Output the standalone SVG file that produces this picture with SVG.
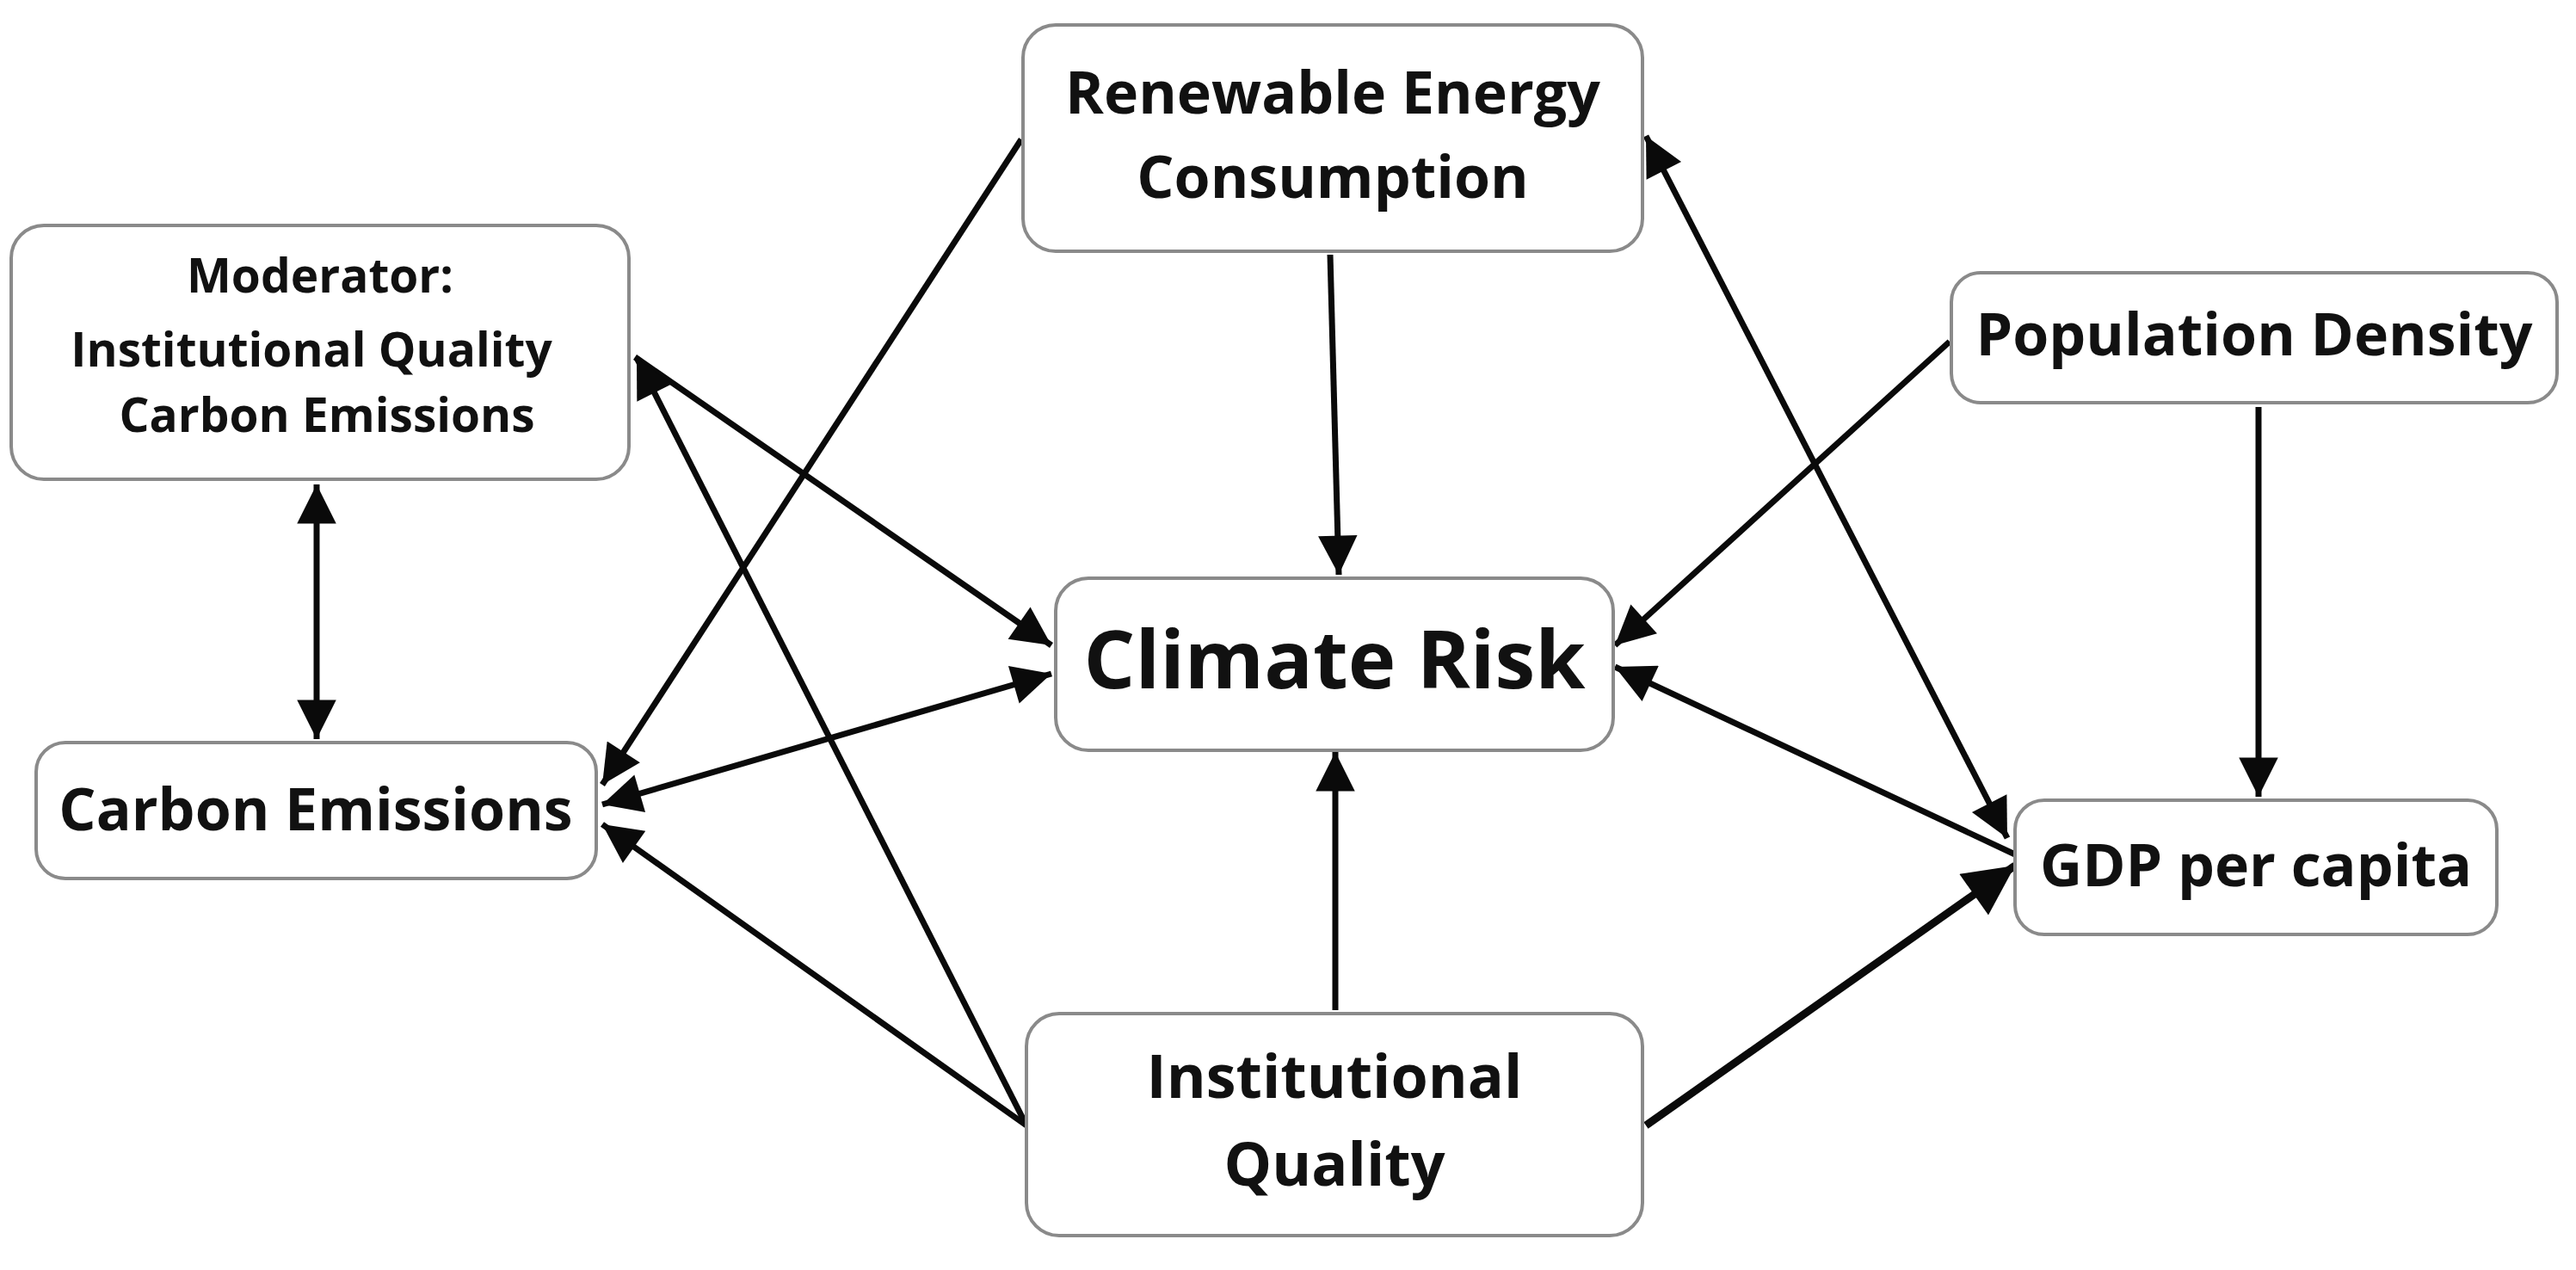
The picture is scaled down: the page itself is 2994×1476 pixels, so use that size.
<svg xmlns="http://www.w3.org/2000/svg" width="2994" height="1476" viewBox="0 0 2994 1476">
<style>
.box{fill:#fff;stroke:#8a8a8a;stroke-width:4}
text{font-family:"Open Sans","Noto Sans","DejaVu Sans",sans-serif;font-weight:bold;fill:#111;text-anchor:middle}
.ln{stroke:#0a0a0a;stroke-width:7;fill:none}
</style>
<defs>
<marker id="a" viewBox="0 0 10 10" refX="10" refY="5" markerWidth="8" markerHeight="6.5" markerUnits="strokeWidth" orient="auto-start-reverse">
<path d="M0,0 L10,5 L0,10 z" fill="#0a0a0a"/>
</marker>
</defs>
<rect width="2994" height="1476" fill="#fff"/>
<g id="connectors">
<line class="ln" x1="1546" y1="296" x2="1556" y2="668" marker-end="url(#a)"/>
<line class="ln" x1="1187" y1="162" x2="700" y2="912" marker-end="url(#a)"/>
<line class="ln" x1="368" y1="563" x2="368" y2="859" marker-start="url(#a)" marker-end="url(#a)"/>
<line class="ln" x1="738" y1="415" x2="1222" y2="750" marker-end="url(#a)"/>
<line class="ln" x1="1193" y1="1308" x2="740" y2="416" marker-end="url(#a)"/>
<line class="ln" x1="700" y1="935" x2="1222" y2="783" marker-start="url(#a)" marker-end="url(#a)"/>
<line class="ln" x1="1193" y1="1308" x2="700" y2="958" marker-end="url(#a)"/>
<line class="ln" x1="1552" y1="1174" x2="1552" y2="874" marker-end="url(#a)"/>
<line class="ln" x1="1913" y1="1308" x2="2342" y2="1006" style="stroke-width:9" marker-end="url(#a)"/>
<line class="ln" x1="2333" y1="974" x2="1913" y2="158" marker-start="url(#a)" marker-end="url(#a)"/>
<line class="ln" x1="2266" y1="397" x2="1877" y2="750" marker-end="url(#a)"/>
<line class="ln" x1="2625" y1="473" x2="2625" y2="926" marker-end="url(#a)"/>
<line class="ln" x1="2342" y1="993" x2="1877" y2="775" marker-end="url(#a)"/>
</g>
<g id="renewable"><rect class="box" x="1189" y="29" width="720" height="263" rx="38"/>
<text x="1549" y="132" font-size="68">Renewable Energy</text><text x="1549" y="230" font-size="68">Consumption</text></g>
<g id="moderator"><rect class="box" x="13" y="262" width="718" height="295" rx="38"/>
<text x="372" y="340" font-size="55">Moderator:</text><text x="362" y="426" font-size="55">Institutional Quality</text><text x="380" y="502" font-size="55">Carbon Emissions</text></g>
<g id="population"><rect class="box" x="2268" y="317" width="704" height="151" rx="34"/>
<text x="2620" y="413" font-size="68">Population Density</text></g>
<g id="climate"><rect class="box" x="1227" y="672" width="648" height="200" rx="38"/>
<text x="1551" y="800" font-size="94">Climate Risk</text></g>
<g id="carbon"><rect class="box" x="42" y="863" width="651" height="158" rx="34"/>
<text x="367" y="965" font-size="68">Carbon Emissions</text></g>
<g id="gdp"><rect class="box" x="2342" y="930" width="560" height="156" rx="34"/>
<text x="2622" y="1030" font-size="68">GDP per capita</text></g>
<g id="institutional"><rect class="box" x="1193" y="1178" width="716" height="258" rx="38"/>
<text x="1551" y="1276" font-size="70">Institutional</text><text x="1551" y="1378" font-size="70">Quality</text></g>
</svg>
